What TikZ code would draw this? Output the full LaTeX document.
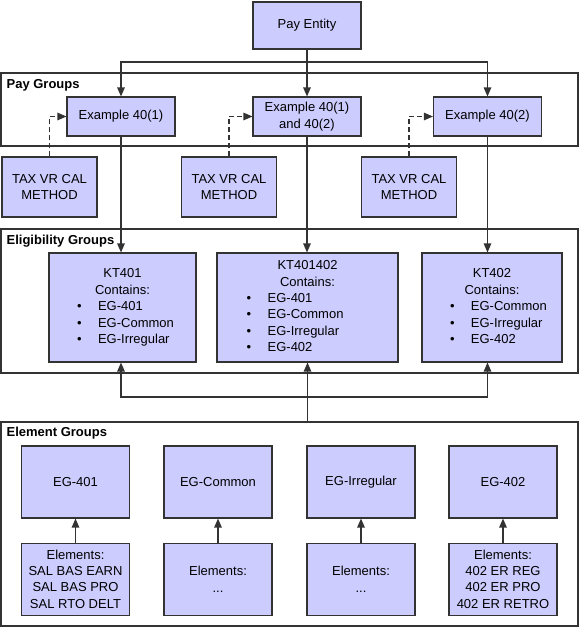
\documentclass[tikz,border=0pt]{standalone}
\usepackage{fontspec}
\setmainfont{Liberation Sans}
\usepackage{tikz}
\usetikzlibrary{arrows.meta}
\usetikzlibrary{positioning}

\definecolor{boxfill}{HTML}{CCCCFF}
\definecolor{edgegray}{HTML}{333333}

% list of element groups inside an eligibility group
\newcommand{\eglist}[4]{\begin{tabular}{@{\hspace{#1}}l@{\hspace{16.4pt}}l@{\hspace{#2}}}#3#4\end{tabular}}
\newcommand{\ttl}[1]{\multicolumn{2}{@{}c@{}}{#1}\\}
\newcommand{\itm}[1]{\textbullet & #1\\}

\tikzset{
    box/.style={draw=edgegray, fill=boxfill, line width=1.1pt, inner sep=0pt, align=center, font=\fontsize{13}{16.4}\selectfont},
    frame/.style={draw=edgegray, line width=1.1pt, inner sep=0pt},
    grplabel/.style={font=\fontsize{13}{16}\selectfont\bfseries, inner sep=0pt, anchor=west},
    link/.style={->, draw=edgegray, line width=1.2pt},
    hint/.style={link, dash pattern=on 5pt off 3pt},
}

\begin{document}
\begin{tikzpicture}[x=1pt, y=-1pt, >={Triangle[length=9pt,width=7.5pt]}]

    \useasboundingbox (0,0) rectangle (579,627);

    % Frames

    \node[frame, minimum width=577, minimum height=73]  (paygrp)  at (289.5,109.5) {}; %
    \node[frame, minimum width=577, minimum height=144] (eliggrp) at (289.5,301) {}; %
    \node[frame, minimum width=577, minimum height=204] (elemgrp) at (289.5,524) {}; %

    \node[grplabel] at ([xshift=6pt, yshift=-13pt]paygrp.north west)  {Pay Groups};
    \node[grplabel] at ([xshift=6pt, yshift=-13pt]eliggrp.north west) {Eligibility Groups};
    \node[grplabel] at ([xshift=6pt, yshift=-12pt]elemgrp.north west) {Element Groups};

    % Nodes

    \node[box, minimum width=108, minimum height=47] (pe) at (307,25.5) {Pay Entity}; %

    \node[box, minimum width=108, minimum height=39] (ex1) at (121,116.5)   {Example 40(1)}; %
    \node[box, minimum width=108, minimum height=39] (ex2) at (307,116.5)   {Example 40(1)\\and 40(2)}; %
    \node[box, minimum width=108, minimum height=39] (ex3) at (487.5,116.5) {Example 40(2)}; %

    \node[box, minimum width=95, minimum height=60] (tax1) at (49.5,187) {TAX VR CAL\\METHOD}; %
    \node[box, minimum width=95, minimum height=60] (tax2) at (229,187)  {TAX VR CAL\\METHOD}; %
    \node[box, minimum width=95, minimum height=60] (tax3) at (409,187)  {TAX VR CAL\\METHOD}; %

    % More nodes
    \node[box, minimum width=147, minimum height=109] (kt1) at (122.5,307.5)
        {\eglist{6pt}{0pt}{\ttl{KT401}\ttl{Contains:}}{\itm{EG-401}\itm{EG-Common}\itm{EG-Irregular}}}; %
    \node[box, minimum width=181, minimum height=109] (kt2) at (307.5,307.5)
        {\eglist{0pt}{24.8pt}{\ttl{KT401402}\ttl{Contains:}}{\itm{EG-401}\itm{EG-Common}\itm{EG-Irregular}\itm{EG-402}}}; %
    \node[box, minimum width=140, minimum height=109] (kt3) at (492,307.5)
        {\eglist{12.8pt}{0pt}{\ttl{KT402}\ttl{Contains:}}{\itm{EG-Common}\itm{EG-Irregular}\itm{EG-402}}}; %

    \node[box, minimum width=108, minimum height=72] (eg1) at (75.5,482) {EG-401}; %
    \node[box, minimum width=108, minimum height=72] (eg2) at (218,482)  {EG-Common}; %
    \node[box, minimum width=108, minimum height=72] (eg3) at (361,482)  {EG-Irregular}; %
    \node[box, minimum width=108, minimum height=72] (eg4) at (503,482)  {EG-402}; %

    \node[box, minimum width=108, minimum height=72, below=24pt of eg1] (el1) {Elements:\\SAL BAS EARN\\SAL BAS PRO\\SAL RTO DELT}; %
    \node[box, minimum width=108, minimum height=72, below=24pt of eg2] (el2) {Elements:\\...}; %
    \node[box, minimum width=108, minimum height=72, below=24pt of eg3] (el3) {Elements:\\...}; %
    \node[box, minimum width=108, minimum height=72, below=24pt of eg4] (el4) {Elements:\\402 ER REG\\402 ER PRO\\402 ER RETRO}; %

    \coordinate (split) at (307,62);
    \coordinate (merge) at (307,397);

    % Edges

    \draw[link] (pe.south) -- (ex2.north);
    \draw[link] (split) -| (ex1.north);
    \draw[link] (split) -| (ex3.north);

    \draw[hint] (tax1.north) |- (ex1.west);
    \draw[hint] (tax2.north) |- (ex2.west);
    \draw[hint] (tax3.north) |- (ex3.west);

    \draw[link] (ex1.south) -- (ex1.south |- kt1.north);
    \draw[link] (ex2.south) -- (ex2.south |- kt2.north);
    \draw[link] (ex3.south) -- (ex3.south |- kt3.north);

    \draw[link] (kt2.south |- elemgrp.north) -- (kt2.south);
    \draw[link] (merge) -| (ex1.south |- kt1.south);
    \draw[link] (merge) -| (ex3.south |- kt3.south);

    \draw[link] (el1) -- (eg1);
    \draw[link] (el2) -- (eg2);
    \draw[link] (el3) -- (eg3);
    \draw[link] (el4) -- (eg4);

\end{tikzpicture}
\end{document}
